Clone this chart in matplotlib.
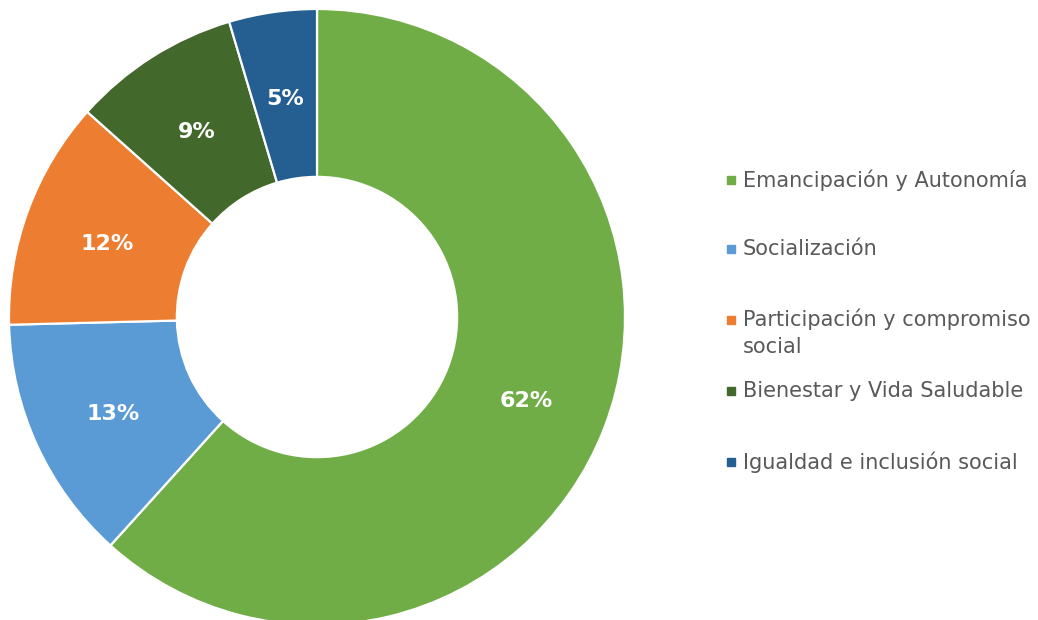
import matplotlib.pyplot as plt
from matplotlib.patches import Rectangle

categories = ["Emancipación y Autonomía", "Socialización",
              "Participación y compromiso\nsocial", "Bienestar y Vida Saludable",
              "Igualdad e inclusión social"]
values = [61.7, 12.9, 12.0, 8.8, 4.6]
colors = ["#70AD47", "#5B9BD5", "#ED7D31", "#43682B", "#255E91"]

fig = plt.figure(figsize=(10.38, 6.2), dpi=100)
ax = fig.add_axes([9 / 1038, -5 / 620, 616 / 1038, 616 / 620])

wedges, texts, autotexts = ax.pie(
    values, colors=colors, startangle=90, counterclock=False,
    radius=1.0, autopct=lambda p: "%d%%" % round(p), pctdistance=0.727,
    wedgeprops=dict(width=0.545, edgecolor="white", linewidth=1.6),
    textprops=dict(color="white", fontsize=16, fontweight="bold"))
for t in autotexts:
    x, y = t.get_position()
    t.set_position((x, y - 0.012))
ax.set_xlim(-1.0, 1.0)
ax.set_ylim(-1.0, 1.0)
ax.set_aspect("equal")
ax.axis("off")

# legend drawn by hand so the two-line entry keeps its slot
slot_y = [180, 249, 320, 391, 462]
for lab, col, y in zip(categories, colors, slot_y):
    fig.add_artist(Rectangle((727 / 1038, 1 - (y + 4) / 620), 8 / 1038, 8 / 620,
                             transform=fig.transFigure, color=col))
    if "\n" in lab:
        fig.text(743 / 1038, 1 - (y - 12) / 620, lab, fontsize=15, color="#595959",
                 va="top", ha="left", linespacing=1.45)
    else:
        fig.text(743 / 1038, 1 - y / 620, lab, fontsize=15, color="#595959",
                 va="center", ha="left")

fig.savefig("out.png", dpi=100)
